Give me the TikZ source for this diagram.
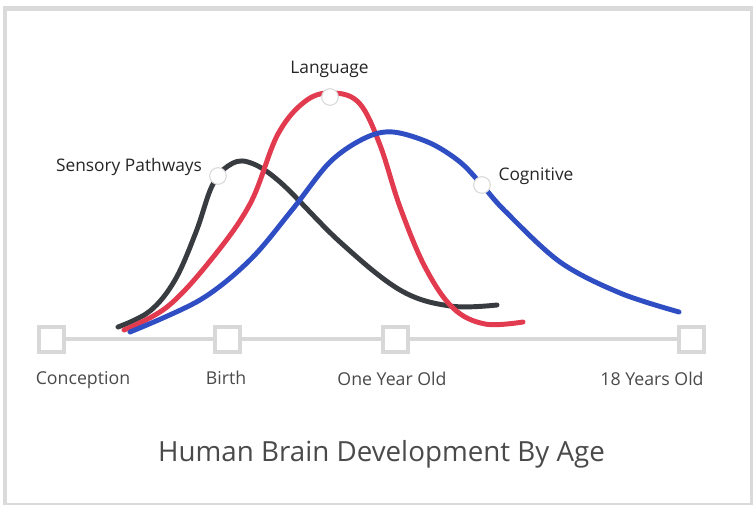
\documentclass[tikz,border=0pt]{standalone}
\usepackage{fontspec}
\setmainfont{Open Sans}
\usetikzlibrary{positioning}
\definecolor{framegray}{HTML}{DADADA}
\definecolor{axisgray}{HTML}{D8D8D8}
\definecolor{sensblack}{HTML}{383B40}
\definecolor{langred}{HTML}{E23A4E}
\definecolor{cogblue}{HTML}{2F4EC4}
\definecolor{textgray}{HTML}{4A4A4A}
\tikzstyle{tick}=[draw=axisgray, line width=3pt, fill=white, minimum size=19pt, inner sep=0pt]
\tikzstyle{agelabel}=[text=textgray, font=\fontsize{13.3}{16}\selectfont, anchor=base, inner sep=0pt]
\tikzstyle{curvelabel}=[text=black!85, font=\fontsize{13}{16}\selectfont, anchor=base, inner sep=0pt]
\tikzstyle{curvemark}=[circle, draw=black!15, line width=0.8pt, fill=white, minimum size=12.5pt, inner sep=0pt]
\tikzstyle{curve}=[line width=3.7pt, line cap=round, line join=round]

\begin{document}
\begin{tikzpicture}[x=0.75pt, y=-0.75pt]
      \useasboundingbox (0,0) rectangle (753,505);
      % frame
      \fill[framegray] (3,6) rectangle (753,505);
      \fill[white] (7,11) rectangle (750,503);
      % age axis
      \node[tick] (conception) at (51.5,339.5) {};
      \node[tick] (birth) at (227.5,339.5) {};
      \node[tick] (oneyear) at (395.5,339.5) {};
      \node[tick] (eighteen) at (691.5,339.5) {};
      \draw[axisgray, line width=3pt] (conception) -- (birth) -- (oneyear) -- (eighteen);
      \node[agelabel] (conceptionlabel) at (83,385) {Conception};
      \node[agelabel] (birthlabel) at (226,385) {Birth};
      \node[agelabel] (oneyearlabel) at (392,386) {One Year Old};
      \node[agelabel] (eighteenlabel) at (652,386) {18 Years Old};
      % curves
      \draw[curve, sensblack] plot[smooth, tension=0.6] coordinates {
        (118,327) (150,311) (175,280) (196,232) (212,186) (228,166) (248,162)
        (280,182) (340,242) (400,290) (450,306) (497,305)};
      \draw[curve, langred] plot[smooth, tension=0.6] coordinates {
        (124,330) (167,307) (210,261) (250,204) (278,134) (307,100) (335,93)
        (360,104) (380,145) (400,207) (425,267) (453,308) (485,324) (523,322)};
      \draw[curve, cogblue] plot[smooth, tension=0.55] coordinates {
        (130,332) (200,300) (250,260) (292,210) (330,162) (365,138) (393,132)
        (430,143) (460,162) (482,185) (505,211) (560,262) (620,293) (679,312)};
      % markers and labels
      \node[curvemark] (sensmark) at (218,176) {};
      \node[curvemark] (langmark) at (330,97) {};
      \node[curvemark] (cogmark) at (482,185) {};
      \node[curvelabel] (senslabel) at (129,172) {Sensory Pathways};
      \node[curvelabel] (langlabel) at (329.5,74) {Language};
      \node[curvelabel] (coglabel) at (536,181) {Cognitive};
      % title
      \node[text=textgray, font=\fontsize{20.8}{25}\selectfont, anchor=base, inner sep=0pt] (title) at (381.5,462) {Human Brain Development By Age};
\end{tikzpicture}
\end{document}
